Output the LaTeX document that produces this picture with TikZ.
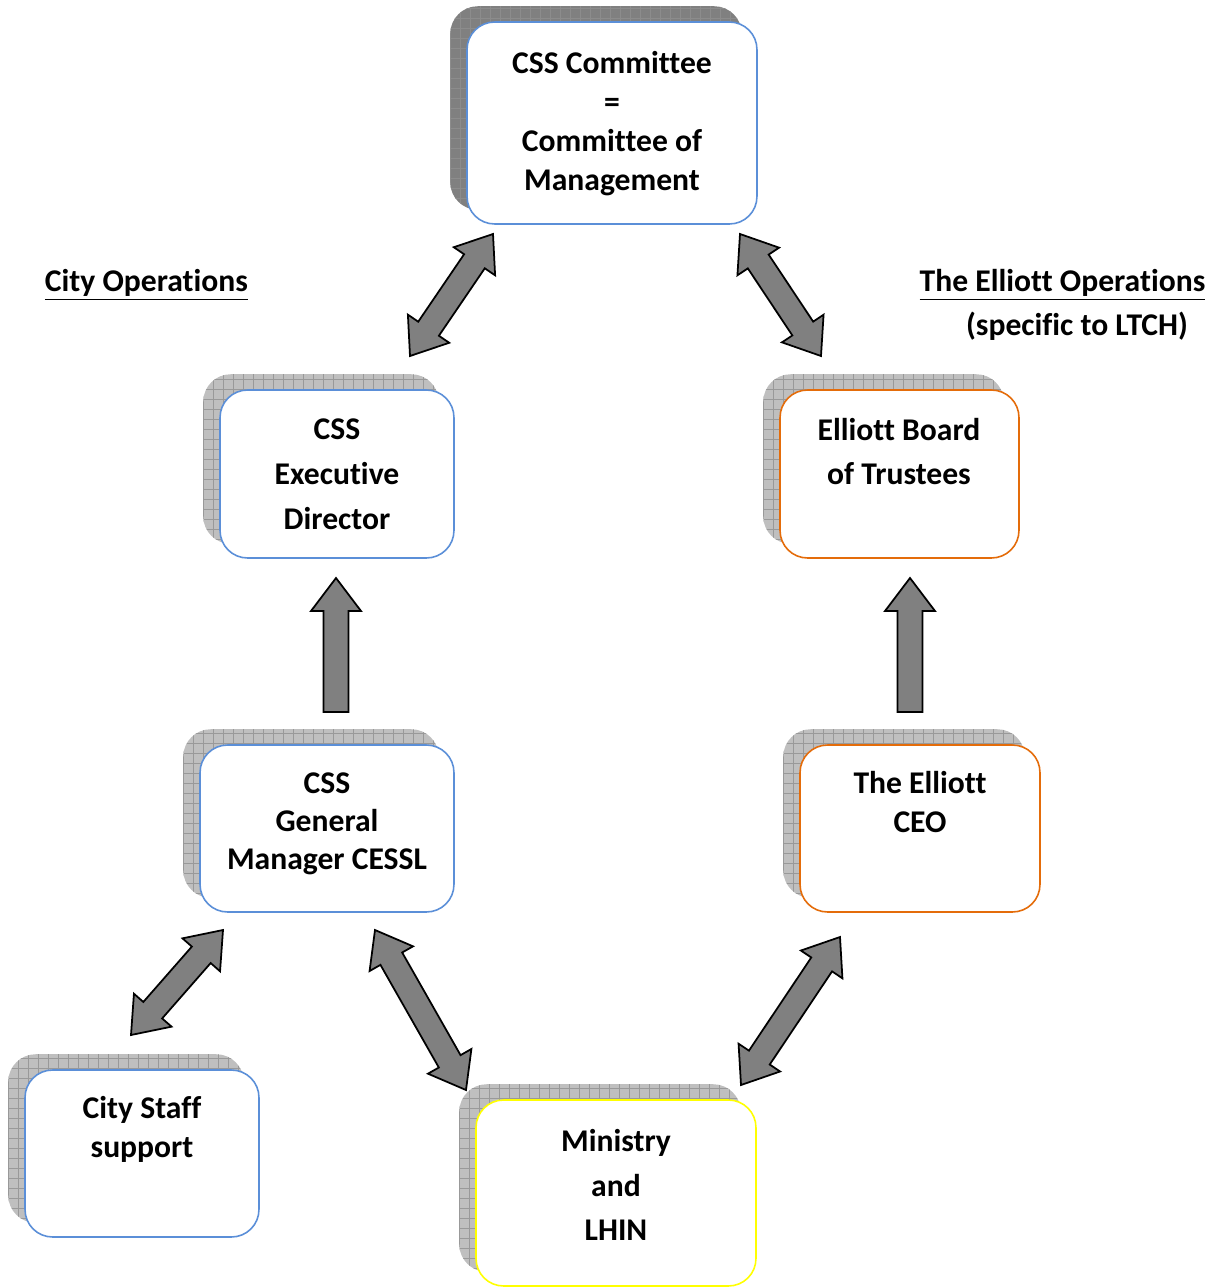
\documentclass[tikz,border=0pt]{standalone}
\usepackage{fontspec}
\setmainfont{Carlito}[Ligatures=NoCommon]
\usepackage{xcolor}
\usetikzlibrary{calc,fit,backgrounds}

\definecolor{cssblue}{HTML}{5B8FD8}
\definecolor{elliottorange}{HTML}{E46C0A}
\definecolor{lhinyellow}{HTML}{FFFF00}
\definecolor{arrowgray}{HTML}{808080}

\newcommand\ahlen{0.66cm}
\newcommand\ahwid{0.5cm}
\newcommand\ashaft{0.25cm}

% block arrow with heads at both ends
\newcommand\dblarrow[2]{%
  \coordinate (ha) at ($(#1)!\ahlen!(#2)$);
  \coordinate (hb) at ($(#2)!\ahlen!(#1)$);
  \draw[blockarrow] (#1)
    -- ($(ha)!\ahwid!90:(#2)$) -- ($(ha)!\ashaft!90:(#2)$)
    -- ($(hb)!\ashaft!-90:(#1)$) -- ($(hb)!\ahwid!-90:(#1)$)
    -- (#2)
    -- ($(hb)!\ahwid!90:(#1)$) -- ($(hb)!\ashaft!90:(#1)$)
    -- ($(ha)!\ashaft!-90:(#2)$) -- ($(ha)!\ahwid!-90:(#2)$) -- cycle;}
% block arrow from #1 to #2
\newcommand\sglarrow[2]{%
  \coordinate (hb) at ($(#2)!\ahlen!(#1)$);
  \draw[blockarrow] ($(#1)!\ashaft!90:(#2)$)
    -- ($(hb)!\ashaft!-90:(#1)$) -- ($(hb)!\ahwid!-90:(#1)$)
    -- (#2)
    -- ($(hb)!\ahwid!90:(#1)$) -- ($(hb)!\ashaft!90:(#1)$)
    -- ($(#1)!\ashaft!-90:(#2)$) -- cycle;}

\begin{document}
\begin{tikzpicture}[
  x=0.02cm, y=-0.02cm,
  box/.style={draw, line width=0.9pt, rounded corners=0.55cm, fill=white},
  boxtext/.style={align=center, font=\bfseries\fontsize{18}{22}\selectfont},
  head/.style={font=\bfseries\fontsize{18}{22}\selectfont},
  shadowbox/.style={rounded corners=0.55cm, inner sep=0pt, xshift=-0.32cm, yshift=0.3cm,
    fill=gray!50, path picture={\draw[gray!80, line width=0.4pt]
      (path picture bounding box.south west) grid[step=0.2cm]
      (path picture bounding box.north east);}},
  darkshadow/.style={shadowbox, fill=gray, path picture={\draw[gray!90, line width=0.4pt]
      (path picture bounding box.south west) grid[step=0.2cm]
      (path picture bounding box.north east);}},
  blockarrow/.style={draw=black, fill=arrowgray, line width=1pt, line join=miter}
]
\useasboundingbox (0,0) rectangle (1222,1288);

\node[box, draw=cssblue, minimum width=5.8cm, minimum height=4.04cm] (top) at (612,123) {};
\node[box, draw=cssblue, minimum width=4.68cm, minimum height=3.36cm] (exec) at (337,474) {};
\node[box, draw=elliottorange, minimum width=4.78cm, minimum height=3.36cm] (board) at (899.5,474) {};
\node[box, draw=cssblue, minimum width=5.08cm, minimum height=3.34cm] (gm) at (327,828.5) {};
\node[box, draw=elliottorange, minimum width=4.8cm, minimum height=3.34cm] (ceo) at (920,828.5) {};
\node[box, draw=cssblue, minimum width=4.68cm, minimum height=3.34cm] (staff) at (142,1153.5) {};
\node[box, draw=lhinyellow, minimum width=5.6cm, minimum height=3.72cm] (min) at (616,1193) {};

\begin{scope}[on background layer]
\node[darkshadow, fit=(top)] (top-sh) {};
\node[shadowbox, fit=(exec)] (exec-sh) {};
\node[shadowbox, fit=(board)] (board-sh) {};
\node[shadowbox, fit=(gm)] (gm-sh) {};
\node[shadowbox, fit=(ceo)] (ceo-sh) {};
\node[shadowbox, fit=(staff)] (staff-sh) {};
\node[shadowbox, fit=(min)] (min-sh) {};
\end{scope}

\node[boxtext, font=\bfseries\fontsize{18}{22.2}\selectfont] (top-t) at (612,124) {CSS Committee\\=\\Committee of\\Management};
\node[boxtext, font=\bfseries\fontsize{18}{25.5}\selectfont] (exec-t) at (337,474) {CSS\\Executive\\Director};
\node[boxtext, font=\bfseries\fontsize{18}{25.5}\selectfont] (board-t) at (899,451.5) {Elliott Board\\of Trustees};
\node[boxtext, font=\bfseries\fontsize{18}{21.5}\selectfont] (gm-t) at (327,824) {CSS\\General\\Manager CESSL};
\node[boxtext] (ceo-t) at (920,802) {The Elliott\\CEO};
\node[boxtext] (staff-t) at (142,1129.5) {City Staff\\support};
\node[boxtext, font=\bfseries\fontsize{18}{25.5}\selectfont] (min-t) at (616,1185) {Ministry\\and\\LHIN};

\node[head] (cityops) at (146.5,285) {\underline{City Operations}};
\node[head] (elliottops) at (1062.5,285) {\underline{The Elliott Operations}};
\node[head] (ltch) at (1077,326) {(specific to LTCH)};

\coordinate (exec-top) at (410,356);
\coordinate (top-exec) at (493,234);
\coordinate (top-board) at (740,234);
\coordinate (board-top) at (821,356);
\coordinate (gm-up) at (336,712);
\coordinate (exec-dn) at (336,578);
\coordinate (ceo-up) at (910,712);
\coordinate (board-dn) at (910,578);
\coordinate (staff-gm) at (131,1035);
\coordinate (gm-staff) at (223,930);
\coordinate (gm-min) at (375,930);
\coordinate (min-gm) at (466,1090);
\coordinate (min-ceo) at (741,1085);
\coordinate (ceo-min) at (840,937);

\dblarrow{exec-top}{top-exec}
\dblarrow{top-board}{board-top}
\sglarrow{gm-up}{exec-dn}
\sglarrow{ceo-up}{board-dn}
\dblarrow{staff-gm}{gm-staff}
\dblarrow{gm-min}{min-gm}
\dblarrow{min-ceo}{ceo-min}
\end{tikzpicture}
\end{document}
